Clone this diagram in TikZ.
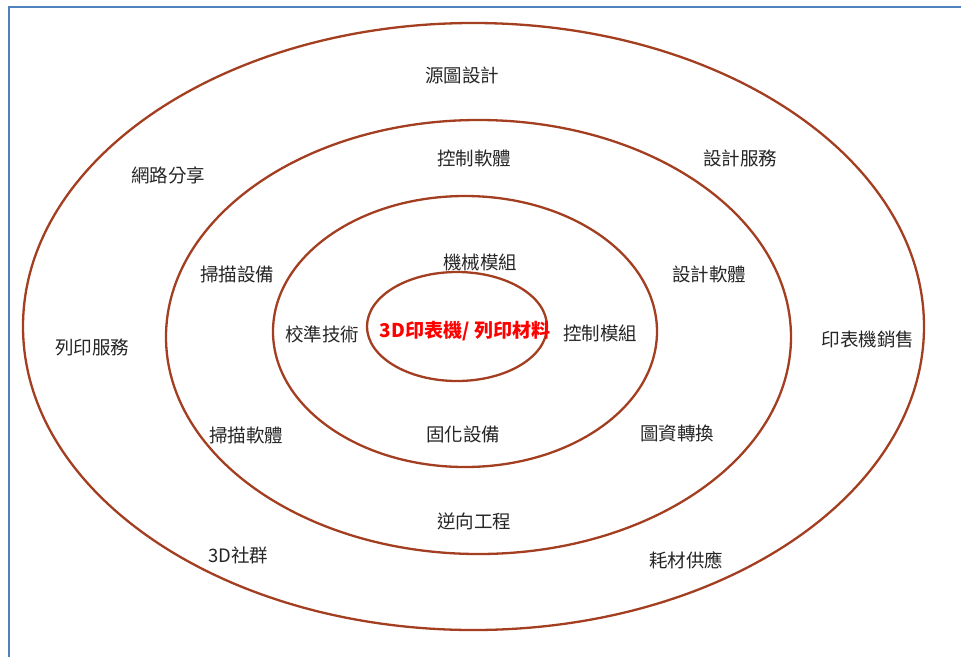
\documentclass[tikz,border=0pt]{standalone}
\usepackage{fontspec}
\setmainfont{Noto Sans CJK TC}
\definecolor{ring}{RGB}{163,62,32}
\definecolor{frame}{RGB}{79,129,189}
\begin{document}
\begin{tikzpicture}[x=1pt,y=-1pt,
  ringline/.style={draw=ring,line width=2.3pt},
  lbl/.style={font=\fontsize{18.5}{21}\selectfont,text=black!85,inner sep=0pt},
  core/.style={font=\fontsize{19}{21}\selectfont\bfseries,text=red,inner sep=0pt}]
\useasboundingbox (0,0) rectangle (961,657);
\fill[white] (0,0) rectangle (961,657);
\draw[frame,line width=2.6pt] (9,657) -- (9,7) -- (961,7);
\draw[ringline] (473.5,326.5) ellipse [x radius=450.5,y radius=303.5];
\draw[ringline] (478.5,337) ellipse [x radius=312.5,y radius=217];
\draw[ringline] (465,331.5) ellipse [x radius=192,y radius=135.5];
\draw[ringline] (457,326.5) ellipse [x radius=90,y radius=54.5];
\node[core] (c) at (465,331) {3D印表機/ 列印材料};
\node[lbl] (a1) at (462,75) {源圖設計};
\node[lbl] (a2) at (168,175) {網路分享};
\node[lbl] (a3) at (474,158) {控制軟體};
\node[lbl] (a4) at (740,158) {設計服務};
\node[lbl] (a5) at (480,262) {機械模組};
\node[lbl] (a6) at (237,274) {掃描設備};
\node[lbl] (a7) at (709,274) {設計軟體};
\node[lbl] (a8) at (92,347) {列印服務};
\node[lbl] (a9) at (322,334) {校準技術};
\node[lbl] (a10) at (600,333) {控制模組};
\node[lbl] (a11) at (868,339) {印表機銷售};
\node[lbl] (a12) at (246,435) {掃描軟體};
\node[lbl] (a13) at (463,434) {固化設備};
\node[lbl] (a14) at (677,433) {圖資轉換};
\node[lbl] (a15) at (474,521) {逆向工程};
\node[lbl] (a16) at (238,555) {3D社群};
\node[lbl] (a17) at (686,560) {耗材供應};
\end{tikzpicture}
\end{document}
